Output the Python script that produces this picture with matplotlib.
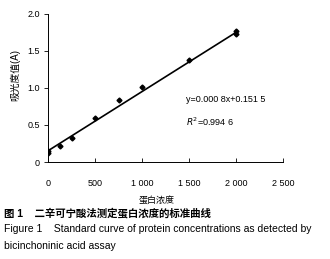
import matplotlib
matplotlib.use("Agg")
import numpy as np
import matplotlib.pyplot as plt

plt.rcParams['font.family'] = ['Liberation Sans', 'Noto Sans CJK SC', 'DejaVu Sans']

# data
conc = [0, 0, 125, 250, 500, 750, 1000, 1500, 2000, 2000]
absorb = [0.12, 0.15, 0.22, 0.33, 0.60, 0.84, 1.01, 1.38, 1.73, 1.77]
slope, intercept = 0.0008, 0.1515
fit_x = [0, 2000]

x_ticks = [0, 500, 1000, 1500, 2000, 2500]
x_labels = ["0", "500", "1 000", "1 500", "2 000", "2 500"]
y_ticks = [0, 0.5, 1.0, 1.5, 2.0]
y_labels = ["0", "0.5", "1.0", "1.5", "2.0"]

fig = plt.figure(figsize=(3.3, 2.59), dpi=100)
ax = fig.add_axes([0.1455, 0.3745, 0.712, 0.5715])

fx = np.array(fit_x)
ax.plot(fx, slope * fx + intercept, color="black", lw=1.2)
ax.plot(conc, absorb, "D", color="black", ms=2.5)

ax.set_xlim(0, 2500)
ax.set_ylim(0, 2.0)
ax.set_xticks(x_ticks)
ax.set_xticklabels(x_labels)
ax.set_yticks(y_ticks)
ax.set_yticklabels(y_labels)
ax.tick_params(axis="x", direction="in", length=3, pad=12, labelsize=6.5, width=0.6)
ax.tick_params(axis="y", direction="out", length=3, pad=3, labelsize=6.5, width=0.6)
for s in ["top", "right"]:
    ax.spines[s].set_visible(False)
for s in ["left", "bottom"]:
    ax.spines[s].set_linewidth(0.7)

ax.set_ylabel("吸光度值(A)", fontsize=7)
ax.yaxis.set_label_coords(-0.12, 0.59)
ax.text(0.464, -0.255, "蛋白浓度", transform=ax.transAxes, ha="center", va="center", fontsize=6.5)

ax.text(1465, 0.84, "y=0.000 8x+0.151 5", ha="left", va="center", fontsize=6.5)
ax.text(1465, 0.54, "$R^2$=0.994 6", ha="left", va="center", fontsize=6.5)

fig.text(0.012, 0.178, "图 1    二辛可宁酸法测定蛋白浓度的标准曲线", fontsize=7.5,
         fontweight="bold", va="center")
fig.text(0.012, 0.116, "Figure 1    Standard curve of protein concentrations as detected by",
         fontsize=7.5, va="center")
fig.text(0.012, 0.05, "bicinchoninic acid assay", fontsize=7.5, va="center")

fig.savefig("out.png", dpi=100)
